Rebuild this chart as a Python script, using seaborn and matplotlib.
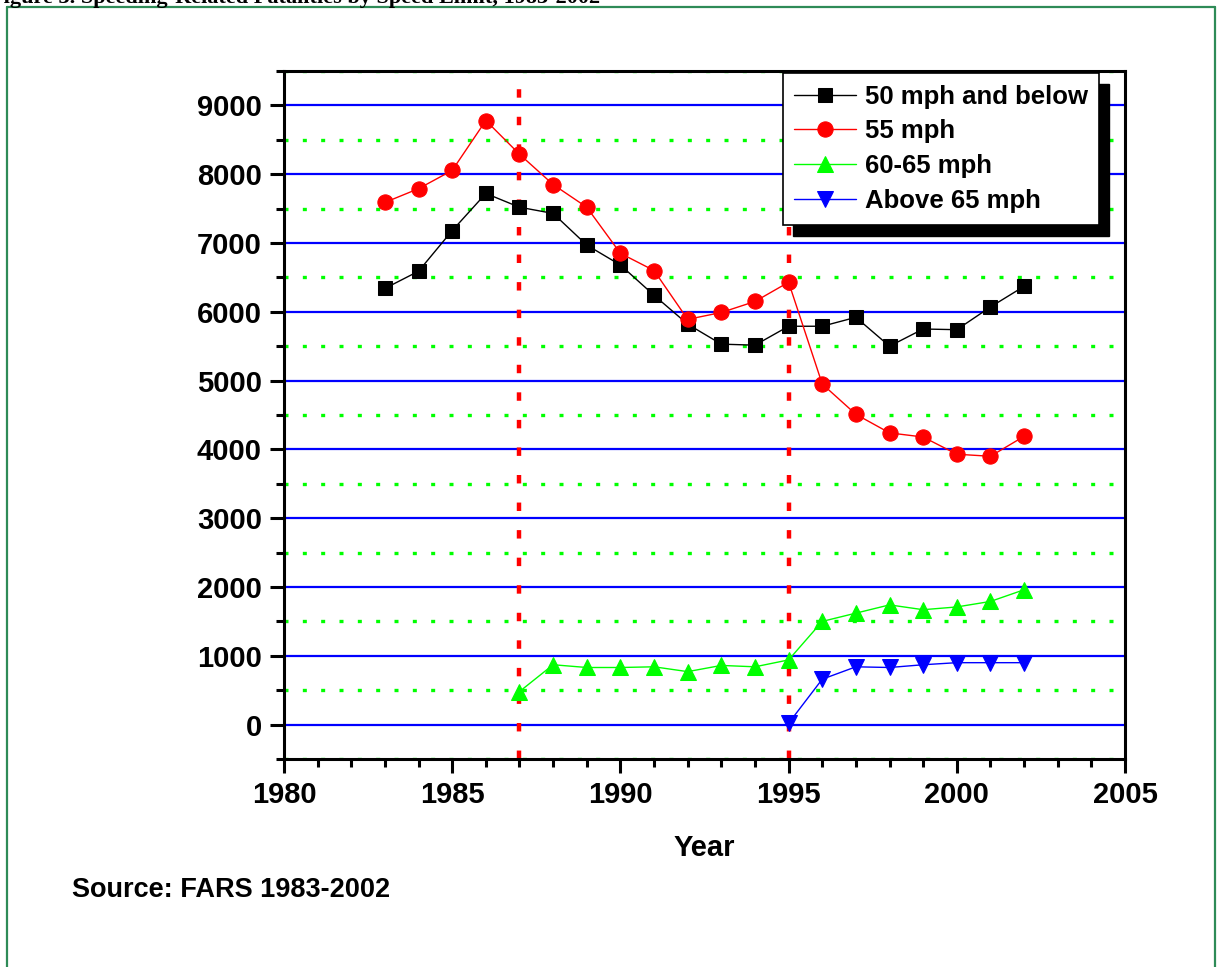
# Speeding-related fatalities by speed limit, 1983-2002
import matplotlib
matplotlib.use('Agg')
import matplotlib.pyplot as plt
from matplotlib.lines import Line2D
from matplotlib.patches import Rectangle
from matplotlib.ticker import MultipleLocator
import pandas as pd
import seaborn as sns

# Data
years_all = list(range(1983, 2003))
below_50 = [6340, 6590, 7180, 7720, 7520, 7430, 6970, 6680, 6240, 5820,
            5530, 5515, 5790, 5790, 5920, 5500, 5750, 5740, 6070, 6370]
mph_55 = [7590, 7790, 8055, 8780, 8290, 7850, 7520, 6850, 6600, 5890,
          5990, 6150, 6430, 4950, 4510, 4240, 4180, 3930, 3900, 4190]
years_60_65 = list(range(1987, 2003))
mph_60_65 = [480, 870, 830, 830, 840, 770, 860, 840, 940, 1500,
             1620, 1740, 1670, 1710, 1790, 1960]
years_above_65 = list(range(1995, 2003))
above_65 = [20, 660, 840, 830, 870, 900, 900, 900]
law_years = [1987, 1995]

labels = ['50 mph and below', '55 mph', '60-65 mph', 'Above 65 mph']
colors = ['black', 'red', '#00FF00', 'blue']
markers = ['s', 'o', '^', 'v']
msizes = [10, 11, 11.5, 11.5]

series = [(years_all, below_50), (years_all, mph_55),
          (years_60_65, mph_60_65), (years_above_65, above_65)]

sns.set_style('ticks')
plt.rcParams['font.family'] = ['Liberation Sans', 'DejaVu Sans']
plt.rcParams['font.weight'] = 'bold'
plt.rcParams['text.color'] = 'black'
plt.rcParams['axes.labelcolor'] = 'black'
plt.rcParams['xtick.color'] = 'black'
plt.rcParams['ytick.color'] = 'black'

fig = plt.figure(figsize=(12.2, 9.67), dpi=100)
ax = fig.add_axes([284 / 1220, 1 - 759 / 967, 841 / 1220, 688 / 967])

for (xs, ys), lab, col, mk, ms in zip(series, labels, colors, markers, msizes):
    df = pd.DataFrame({'Year': xs, 'Fatalities': ys})
    sns.lineplot(data=df, x='Year', y='Fatalities', ax=ax, color=col,
                 marker=mk, markersize=ms, markeredgecolor=col,
                 linewidth=1.0, label=lab, zorder=3)

# law change lines
for yr in law_years:
    ax.axvline(yr, color='red', lw=3.2, ls=(0, (1.9, 4.3)), zorder=2.5)

ax.set_xlim(1980, 2005)
ax.set_ylim(-500, 9500)
ax.xaxis.set_major_locator(MultipleLocator(5))
ax.xaxis.set_minor_locator(MultipleLocator(1))
ax.yaxis.set_major_locator(MultipleLocator(1000))
ax.yaxis.set_minor_locator(MultipleLocator(500))
ax.set_yticks(range(0, 9001, 1000))

ax.set_axisbelow(True)
ax.grid(which='major', axis='y', color='blue', lw=1.6)
ax.grid(which='minor', axis='y', color='#00FF00', lw=2.4, ls=(0, (1.2, 4.3)))
ax.grid(which='major', axis='x', visible=False)

for s in ax.spines.values():
    s.set_visible(True)
    s.set_linewidth(2.2)
    s.set_color('black')

ax.tick_params(which='major', direction='out', length=10, width=2.2,
               labelsize=21, pad=6, colors='black')
ax.tick_params(which='minor', direction='out', length=6, width=2.2,
               colors='black')
for t in ax.get_xticklabels() + ax.get_yticklabels():
    t.set_fontweight('bold')

ax.set_xlabel('Year', fontsize=21, fontweight='bold', labelpad=18)
ax.set_ylabel('')

leg = ax.legend(loc='upper left', bbox_to_anchor=(0.593, 0.997),
                borderaxespad=0, fancybox=False, framealpha=1,
                edgecolor='black', handlelength=2.4,
                handletextpad=0.35, labelspacing=0.42, borderpad=0.45,
                prop={'weight': 'bold', 'size': 18.5})
leg.get_frame().set_linewidth(1.2)
leg.set_zorder(5)

# black drop shadow behind the legend
fig.canvas.draw()
bb = leg.get_window_extent()
inv = ax.transAxes.inverted()
(x0, y0), (x1, y1) = inv.transform([(bb.x0 + 10, bb.y0 - 11), (bb.x1 + 10, bb.y1 - 11)])
ax.add_patch(Rectangle((x0, y0), x1 - x0, y1 - y0, transform=ax.transAxes,
                       color='black', zorder=4.5, clip_on=False))

fig.text(72 / 1220, 1 - 890 / 967, 'Source: FARS 1983-2002', fontsize=19.5,
         fontweight='bold', va='center', ha='left')

# page frame and clipped caption from the source document
fig.text(-10 / 1220, 1 - 3 / 967,
         'Figure 3. Speeding-Related Fatalities by Speed Limit, 1983-2002',
         family='Liberation Serif', fontsize=16, fontweight='bold',
         va='baseline', ha='left')
frame_col = '#2E8B57'
fig.add_artist(Line2D([7 / 1220, 1215 / 1220], [1 - 7 / 967, 1 - 7 / 967],
                      transform=fig.transFigure, color=frame_col, lw=1.6))
fig.add_artist(Line2D([7 / 1220, 7 / 1220], [0, 1 - 7 / 967],
                      transform=fig.transFigure, color=frame_col, lw=1.6))
fig.add_artist(Line2D([1215 / 1220, 1215 / 1220], [0, 1 - 7 / 967],
                      transform=fig.transFigure, color=frame_col, lw=1.6))

fig.savefig('out.png', dpi=100)
